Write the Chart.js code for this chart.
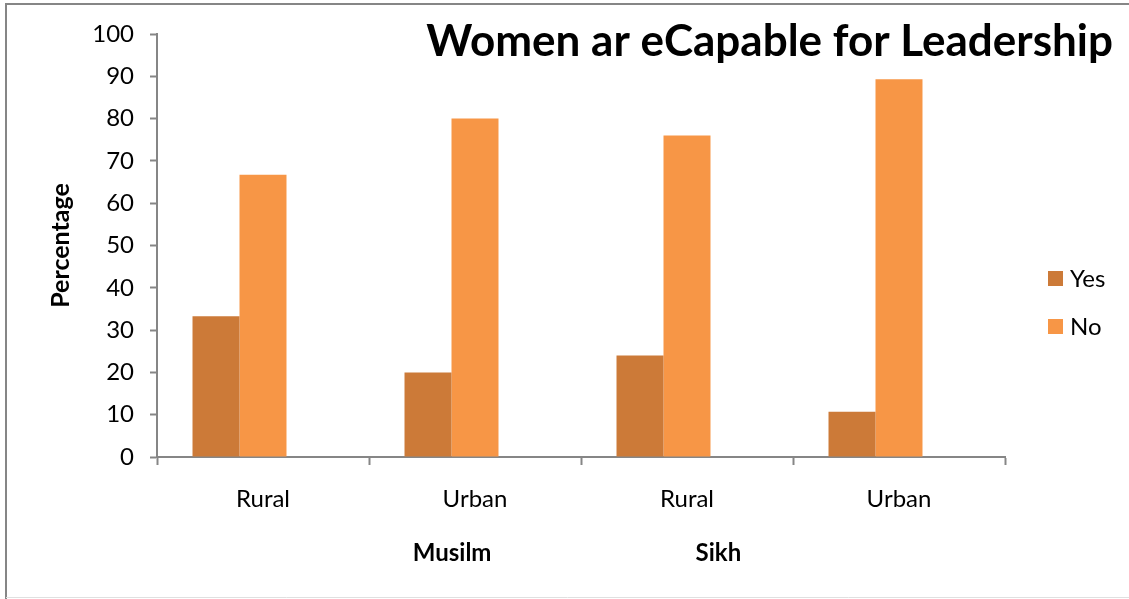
<!DOCTYPE html>
<html>
<head>
<meta charset="utf-8">
<title>Women are capable for leadership</title>
<script src="https://cdn.jsdelivr.net/npm/chart.js@4.4.1/dist/chart.umd.min.js"></script>
<style>
    html, body { margin: 0; padding: 0; background: #fff; }
    #wrap { width: 1129px; height: 599px; position: relative; }
</style>
</head>
<body>
<div id="wrap"><canvas id="chart" width="1129" height="599"></canvas></div>
<script>
const categories = ['Rural', 'Urban', 'Rural', 'Urban'];
const groups = ['Musilm', 'Sikh'];
const yesValues = [33.3, 20, 24, 10.7];
const noValues = [66.7, 80, 76, 89.3];
// third slot of each group is left empty, as in the source sheet
const blankValues = [null, null, null, null];
const yTicks = [0, 10, 20, 30, 40, 50, 60, 70, 80, 90, 100];

const FONT = 'Lato, "Open Sans", sans-serif';
const AXIS_GREY = '#868686';

// frame, title, grouped labels under the axis and the legend on the right
const decorations = {
    id: 'decorations',
    afterDraw(chart) {
        const ctx = chart.ctx;
        const area = chart.chartArea;
        ctx.save();

        ctx.strokeStyle = AXIS_GREY;
        ctx.lineWidth = 2;
        ctx.beginPath();
        ctx.moveTo(6, 599);
        ctx.lineTo(6, 4);
        ctx.lineTo(1129, 4);
        ctx.stroke();
        ctx.strokeStyle = '#e0e0e0';
        ctx.lineWidth = 1;
        ctx.beginPath();
        ctx.moveTo(6, 597.5);
        ctx.lineTo(1129, 597.5);
        ctx.stroke();

        ctx.fillStyle = '#000';
        ctx.font = 'bold 44px ' + FONT;
        ctx.textAlign = 'right';
        ctx.textBaseline = 'alphabetic';
        ctx.fillText('Women ar eCapable for Leadership', 1113, 56);

        const w = area.right - area.left;
        ctx.font = 'bold 24px ' + FONT;
        ctx.textAlign = 'center';
        ctx.textBaseline = 'middle';
        ctx.fillText(groups[0], area.left + w * 0.348, 553);
        ctx.fillText(groups[1], area.left + w * 0.662, 553);

        ctx.font = '24px ' + FONT;
        ctx.textAlign = 'left';
        chart.data.datasets.forEach((ds, i) => {
            if (!ds.label) return;
            const y = 278 + i * 48;
            ctx.fillStyle = ds.backgroundColor;
            ctx.fillRect(1048, y - 7, 15, 15);
            ctx.fillStyle = '#000';
            ctx.fillText(ds.label, 1070, y + 1);
        });
        ctx.restore();
    }
};

new Chart(document.getElementById('chart'), {
    type: 'bar',
    data: {
        labels: categories,
        datasets: [
            { label: 'Yes', data: yesValues, backgroundColor: '#CC7A38' },
            { label: 'No', data: noValues, backgroundColor: '#F79646' },
            { label: '', data: blankValues, backgroundColor: 'rgba(0,0,0,0)' }
        ]
    },
    options: {
        responsive: false,
        animation: false,
        layout: { padding: { left: 0, top: 34, right: 124, bottom: 0 } },
        datasets: {
            bar: {
                categoryPercentage: 0.665,
                barPercentage: 1.0,
                borderWidth: 0
            }
        },
        plugins: {
            legend: { display: false },
            tooltip: { enabled: false }
        },
        scales: {
            x: {
                afterFit: s => { s.height = 142; },
                grid: {
                    display: true,
                    offset: true,
                    drawOnChartArea: false,
                    tickLength: 8,
                    tickWidth: 2,
                    tickColor: AXIS_GREY
                },
                border: { color: AXIS_GREY, width: 2 },
                ticks: { color: '#000', font: { family: FONT, size: 24 }, padding: 20 }
            },
            y: {
                min: 0,
                max: 100,
                afterFit: s => { s.width = 157; },
                afterBuildTicks: s => { s.ticks = yTicks.map(v => ({ value: v })); },
                grid: {
                    display: true,
                    drawOnChartArea: false,
                    tickLength: 7,
                    tickWidth: 2,
                    tickColor: AXIS_GREY
                },
                border: { color: AXIS_GREY, width: 2 },
                ticks: { color: '#000', font: { family: FONT, size: 24 }, padding: 16 },
                title: {
                    display: true,
                    text: 'Percentage',
                    color: '#000',
                    font: { family: FONT, size: 25, weight: 'bold' },
                    padding: { top: 46 }
                }
            }
        }
    },
    plugins: [decorations]
});
</script>
</body>
</html>
